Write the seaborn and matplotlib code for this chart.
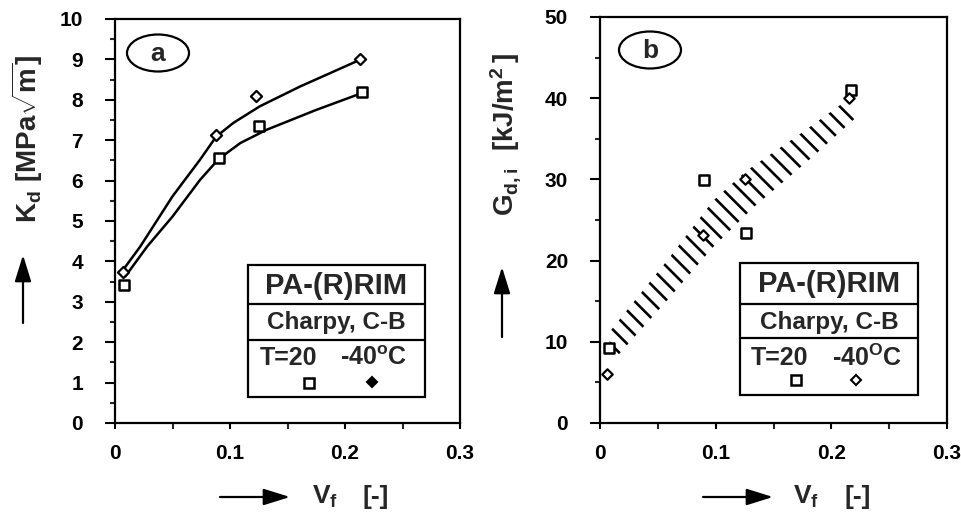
import numpy as np
import pandas as pd
import matplotlib
matplotlib.use("Agg")
import matplotlib.pyplot as plt
import seaborn as sns
from matplotlib.patches import Ellipse, Rectangle, FancyArrowPatch
from matplotlib.lines import Line2D

# ---------------- data ----------------
# panel a: K_d [MPa sqrt(m)]
a_vf_20 = [0.008, 0.090, 0.125, 0.215]
a_kd_20 = [3.42, 6.55, 7.36, 8.20]
a_vf_m40 = [0.007, 0.088, 0.123, 0.213]
a_kd_m40 = [3.73, 7.12, 8.10, 9.00]
# fitted curves
a_fit_m40_x = [0.006, 0.022, 0.050, 0.074, 0.088, 0.103, 0.126, 0.161, 0.213]
a_fit_m40_y = [3.75, 4.37, 5.61, 6.52, 7.09, 7.43, 7.84, 8.33, 8.99]
a_fit_20_x = [0.009, 0.028, 0.050, 0.074, 0.090, 0.109, 0.132, 0.175, 0.215]
a_fit_20_y = [3.63, 4.37, 5.11, 6.02, 6.53, 6.93, 7.26, 7.75, 8.17]

# panel b: G_d,i [kJ/m^2]
b_vf_20 = [0.008, 0.090, 0.126, 0.217]
b_g_20 = [9.2, 29.9, 23.4, 41.0]
b_vf_m40 = [0.006, 0.089, 0.125, 0.215]
b_g_m40 = [6.0, 23.1, 30.0, 40.0]
# scatter band edges
band_up_x = [0.007, 0.058, 0.098, 0.127, 0.173, 0.214]
band_up_y = [11.0, 20.0, 27.4, 31.1, 35.6, 39.8]
band_lo_x = [0.0115, 0.058, 0.098, 0.133, 0.184, 0.2204]
band_lo_y = [7.7, 15.1, 21.7, 26.6, 32.8, 37.5]

x_ticks = [0, 0.1, 0.2, 0.3]
x_ticklabels = ["0", "0.1", "0.2", "0.3"]

# ---------------- style ----------------
sns.set_theme(style="ticks")
plt.rcParams["font.family"] = ["Liberation Sans", "DejaVu Sans"]
plt.rcParams["font.weight"] = "bold"
plt.rcParams["mathtext.fontset"] = "custom"
plt.rcParams["mathtext.rm"] = "Liberation Sans:bold"
plt.rcParams["mathtext.it"] = "Liberation Sans:bold"
plt.rcParams["mathtext.bf"] = "Liberation Sans:bold"
plt.rcParams["mathtext.sf"] = "Liberation Sans:bold"
plt.rcParams["hatch.linewidth"] = 1.9
plt.rcParams["hatch.color"] = "black"

W, H = 961, 523
fig = plt.figure(figsize=(W / 100, H / 100), dpi=100)
fig.patch.set_facecolor("white")


def fx(px):
    return px / W


def fy(py):
    return 1 - py / H


axa = fig.add_axes([fx(115), fy(423), fx(460) - fx(115), fy(19) - fy(423)])
axb = fig.add_axes([fx(600), fy(423), fx(947) - fx(600), fy(17) - fy(423)])

for ax in (axa, axb):
    for s in ax.spines.values():
        s.set_linewidth(1.6)
        s.set_color("black")
    ax.set_facecolor("white")

# ---- panel a ----
sns.lineplot(x=a_fit_m40_x, y=a_fit_m40_y, sort=False, color="black", lw=1.8, ax=axa)
sns.lineplot(x=a_fit_20_x, y=a_fit_20_y, sort=False, color="black", lw=1.8, ax=axa)
sns.scatterplot(x=a_vf_20, y=a_kd_20, marker="s", s=55, facecolor="white",
                edgecolor="black", linewidth=1.8, ax=axa, zorder=3)
sns.scatterplot(x=a_vf_m40, y=a_kd_m40, marker="D", s=32, facecolor="white",
                edgecolor="black", linewidth=1.6, ax=axa, zorder=3)
axa.set_xlim(0, 0.3)
axa.set_ylim(0, 10)
axa.set_yticks(np.arange(0, 11, 1))
axa.set_yticks(np.arange(0.5, 10, 0.5), minor=True)

# ---- panel b ----
poly_x = list(band_up_x) + list(band_lo_x)[::-1]
poly_y = list(band_up_y) + list(band_lo_y)[::-1]
axb.fill(poly_x, poly_y, facecolor="none", edgecolor="black", hatch="\\\\",
         linewidth=0)
sns.scatterplot(x=b_vf_20, y=b_g_20, marker="s", s=60, facecolor="white",
                edgecolor="black", linewidth=1.8, ax=axb, zorder=3)
sns.scatterplot(x=b_vf_m40, y=b_g_m40, marker="D", s=28, facecolor="white",
                edgecolor="black", linewidth=1.6, ax=axb, zorder=3)
axb.set_xlim(0, 0.3)
axb.set_ylim(0, 50)
axb.set_yticks(np.arange(0, 51, 10))
axb.set_yticks(np.arange(5, 50, 10), minor=True)

for ax in (axa, axb):
    ax.set_xticks(x_ticks)
    ax.set_xticklabels(x_ticklabels)
    ax.set_xticks([0.05, 0.15, 0.25], minor=True)
    ax.set_xlabel("")
    ax.set_ylabel("")
    ax.tick_params(axis="y", which="major", direction="out", length=7, width=1.5,
                   pad=16, labelsize=15, colors="black")
    ax.tick_params(axis="y", which="minor", direction="out", length=3.5, width=1.5)
    ax.tick_params(axis="x", which="major", direction="out", length=4, width=1.5,
                   pad=11, labelsize=15, colors="black")
    ax.tick_params(axis="x", which="minor", direction="out", length=4, width=1.5)
    for lab in ax.get_xticklabels() + ax.get_yticklabels():
        lab.set_fontweight("bold")
    ax.set_zorder(1)

# ---- ellipse labels ----
for cx, cy, txt in [(158, 53, "a"), (650, 50, "b")]:
    fig.patches.append(Ellipse((fx(cx), fy(cy)), 62 / W, 37 / H, fill=False,
                               lw=1.6, ec="black", transform=fig.transFigure, zorder=5))
    fig.text(fx(cx), fy(cy + 1), txt, ha="center", va="center", fontsize=19,
             fontweight="bold", zorder=6)

# ---- info boxes ----
def info_box(x0, x1, y0, d1, d2, y1, tx20, tx40, ty, m20, m40, deg, filled_diamond):
    fig.patches.append(Rectangle((fx(x0), fy(y1)), fx(x1) - fx(x0), fy(y0) - fy(y1),
                                 fill=True, fc="white", ec="black", lw=1.6,
                                 transform=fig.transFigure, zorder=5))
    for yy in (d1, d2):
        fig.lines.append(Line2D([fx(x0), fx(x1)], [fy(yy), fy(yy)], color="black",
                                lw=1.6, transform=fig.transFigure, zorder=6))
    cx = (x0 + x1) / 2
    fig.text(fx(cx), fy((y0 + d1) / 2 + 1), "PA-(R)RIM", ha="center", va="center",
             fontsize=21, fontweight="bold", zorder=7)
    fig.text(fx(cx), fy((d1 + d2) / 2 + 1), "Charpy, C-B", ha="center", va="center",
             fontsize=17.5, fontweight="bold", zorder=7)
    fig.text(fx(tx20), fy(ty), "T=20", ha="left", va="center", fontsize=18,
             fontweight="bold", zorder=7)
    fig.text(fx(tx40), fy(ty), "-40" + deg + "C", ha="left", va="center",
             fontsize=18, fontweight="bold", zorder=7)
    fig.lines.append(Line2D([fx(m20[0])], [fy(m20[1])], marker="s", ms=6.5, mfc="white",
                            mec="black", mew=1.8, ls="none",
                            transform=fig.transFigure, zorder=7))
    fig.lines.append(Line2D([fx(m40[0])], [fy(m40[1])], marker="D", ms=5,
                            mfc="black" if filled_diamond else "white",
                            mec="black", mew=1.5, ls="none",
                            transform=fig.transFigure, zorder=7))

info_box(248, 425, 265, 304, 340, 397, 260, 340, 358, (309, 383), (372, 382),
         r"$^{\mathrm{o}}$", True)
info_box(740, 918, 263, 304, 338, 395, 751, 832, 358, (796, 380), (856, 380),
         r"$^{\mathrm{O}}$", False)

# ---- axis labels with arrows ----
fig.text(fx(27), fy(139), r"$\mathrm{K_d\ [MPa\sqrt{m}]}$", rotation=90, ha="center",
         va="center", fontsize=20, fontweight="bold")
fig.text(fx(506), fy(134), r"$\mathrm{G_{d,i}\ \ [kJ/m^2\,]}$", rotation=90,
         ha="center", va="center", fontsize=20, fontweight="bold")
arrow_kw = dict(arrowstyle="-|>,head_length=0.9,head_width=0.28", color="black", lw=1.6,
                shrinkA=0, shrinkB=0, mutation_scale=18)
for x, y0, y1 in [(23, 323, 255), (502, 337, 267)]:
    fig.add_artist(FancyArrowPatch((fx(x), fy(y0)), (fx(x), fy(y1)),
                                   transform=fig.transFigure, **arrow_kw))
for x0, x1, xv, xb in [(220, 290, 312, 362), (703, 773, 793, 845)]:
    fig.add_artist(FancyArrowPatch((fx(x0), fy(497)), (fx(x1), fy(497)),
                                   transform=fig.transFigure, **arrow_kw))
    fig.text(fx(xv), fy(497), r"$\mathrm{V_f}$", ha="left", va="center", fontsize=19,
             fontweight="bold")
    fig.text(fx(xb), fy(497), "[-]", ha="left", va="center", fontsize=19,
             fontweight="bold")

fig.savefig("out.png", dpi=100, facecolor="white")
